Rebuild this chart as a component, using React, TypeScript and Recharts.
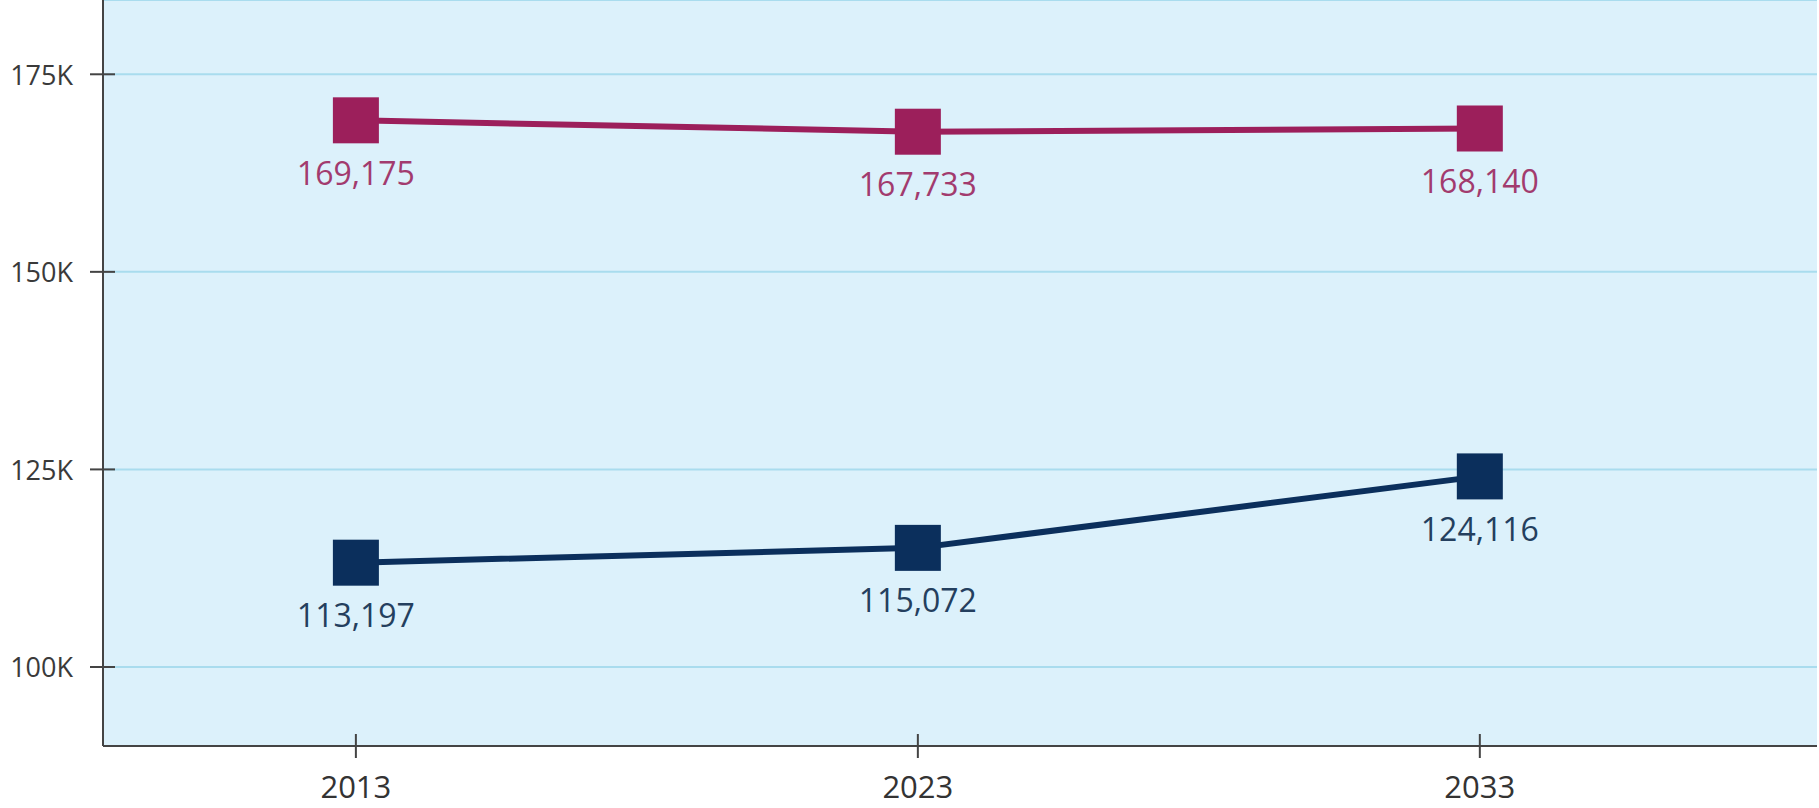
import React from "react";
import {
  CartesianGrid,
  LabelList,
  Line,
  LineChart,
  XAxis,
  YAxis,
} from "recharts";

const years = [2013, 2023, 2033];
const upperSeries = [169175, 167733, 168140];
const lowerSeries = [113197, 115072, 124116];
const yTicks = [100000, 125000, 150000, 175000];

const data = years.map((year, i) => ({
  year,
  upper: upperSeries[i],
  lower: lowerSeries[i],
}));

const PINK = "#9c1f5b";
const NAVY = "#0b2f5c";
const FONT = "'Open Sans', sans-serif";

const SquareDot = ({ cx, cy, fill }: any) => {
  if (cx == null || cy == null) return null;
  return <rect x={cx - 23} y={cy - 23} width={46} height={46} fill={fill} />;
};

const makeLabel = (color: string) => (props: any) => {
  const { x, y, value } = props;
  return (
    <text
      x={x}
      y={y + 52}
      textAnchor="middle"
      dominantBaseline="central"
      fill={color}
      fontSize={32}
      fontFamily={FONT}
    >
      {value.toLocaleString("en-US")}
    </text>
  );
};

const YTick = ({ x, y, payload }: any) => (
  <g>
    <line x1={x - 13} x2={x + 12} y1={y} y2={y} stroke="#444" strokeWidth={2} />
    <text
      x={x - 30}
      y={y}
      textAnchor="end"
      dominantBaseline="central"
      fill="#3a3a3a"
      fontSize={27}
      fontFamily={FONT}
    >
      {`${payload.value / 1000}K`}
    </text>
  </g>
);

const XTick = ({ x, y, payload }: any) => (
  <g>
    <line x1={x} x2={x} y1={y - 12} y2={y + 12} stroke="#444" strokeWidth={2} />
    <text
      x={x}
      y={y + 40}
      textAnchor="middle"
      dominantBaseline="central"
      fill="#333"
      fontSize={31}
      fontFamily={FONT}
    >
      {payload.value}
    </text>
  </g>
);

export default function App() {
  return (
    <div style={{ position: "absolute", left: 0, top: 0, background: "#fff" }}>
      <LineChart
        width={1819}
        height={808}
        data={data}
        margin={{ top: 0, right: 2, left: 0, bottom: 0 }}
      >
        <CartesianGrid
          vertical={false}
          fill="#dcf1fb"
          stroke="#a9dcee"
          strokeWidth={2}
        />
        <XAxis
          dataKey="year"
          type="number"
          domain={[2008.5, 2039]}
          ticks={years}
          height={62}
          tickSize={0}
          tickMargin={0}
          tick={<XTick />}
          axisLine={{ stroke: "#444", strokeWidth: 2 }}
          tickLine={false}
        />
        <YAxis
          type="number"
          domain={[90000, 184400]}
          ticks={yTicks}
          width={103}
          tickSize={0}
          tickMargin={0}
          tick={<YTick />}
          axisLine={{ stroke: "#444", strokeWidth: 2 }}
          tickLine={false}
          allowDataOverflow
        />
        <Line
          dataKey="upper"
          stroke={PINK}
          strokeWidth={6}
          dot={<SquareDot fill={PINK} />}
          activeDot={false}
          isAnimationActive={false}
        >
          <LabelList dataKey="upper" content={makeLabel("#a23b6e")} />
        </Line>
        <Line
          dataKey="lower"
          stroke={NAVY}
          strokeWidth={6}
          dot={<SquareDot fill={NAVY} />}
          activeDot={false}
          isAnimationActive={false}
        >
          <LabelList dataKey="lower" content={makeLabel("#243f5e")} />
        </Line>
      </LineChart>
    </div>
  );
}
